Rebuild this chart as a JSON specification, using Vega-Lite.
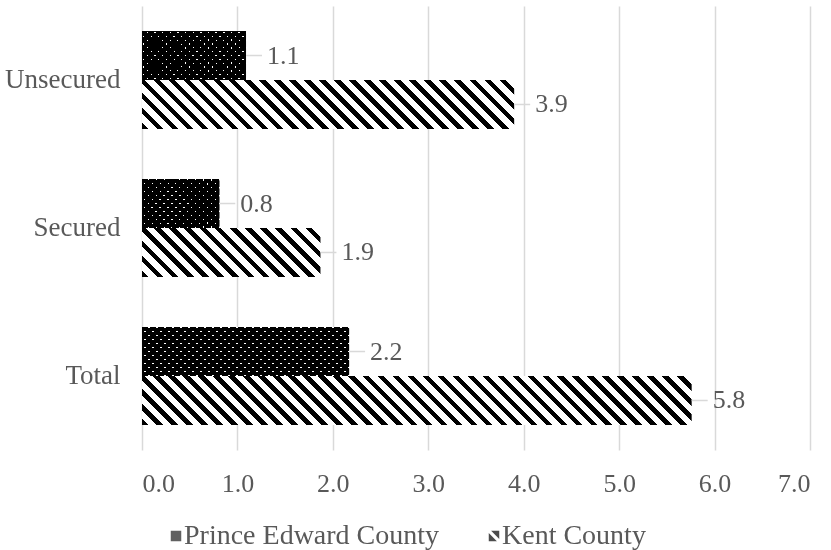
{
  "$schema": "https://vega.github.io/schema/vega-lite/v6.json",
  "width": 668,
  "height": 444,
  "autosize": "none",
  "padding": {"left": 142, "top": 6, "right": 21, "bottom": 100},
  "background": "white",
  "config": {
    "font": "Liberation Serif, DejaVu Serif, serif",
    "view": {"stroke": null},
    "axis": {"labelFont": "Liberation Serif, DejaVu Serif, serif", "labelColor": "#595959", "labelFontSize": 26},
    "legend": {"orient": "none", "legendX": 20, "legendY": 516, "direction": "horizontal", "title": null,
      "labelFontSize": 28, "labelColor": "#595959", "labelFont": "Liberation Serif, DejaVu Serif, serif", "labelLimit": 500,
      "symbolSize": 110, "symbolStrokeWidth": 0, "columnPadding": 40, "labelOffset": -6}
  },
  "data": {
    "values": [
      {"cat": "Unsecured", "county": "Prince Edward County", "value": 1.09},
      {"cat": "Unsecured", "county": "Kent County", "value": 3.9},
      {"cat": "Secured", "county": "Prince Edward County", "value": 0.81},
      {"cat": "Secured", "county": "Kent County", "value": 1.87},
      {"cat": "Total", "county": "Prince Edward County", "value": 2.17},
      {"cat": "Total", "county": "Kent County", "value": 5.76}
    ]
  },
  "encoding": {
    "y": {
      "field": "cat", "type": "nominal", "sort": ["Unsecured", "Secured", "Total"],
      "scale": {"paddingInner": 0.338, "paddingOuter": 0.169},
      "axis": {"title": null, "domain": false, "ticks": false, "labelPadding": 22, "labelFontSize": 27}
    },
    "yOffset": {
      "field": "county", "type": "nominal", "sort": ["Prince Edward County", "Kent County"],
      "scale": {"paddingInner": 0, "paddingOuter": 0}
    },
    "x": {
      "field": "value", "type": "quantitative",
      "scale": {"domain": [0, 7], "nice": false},
      "axis": {"title": null, "values": [0, 1, 2, 3, 4, 5, 6, 7], "format": ".1f", "domain": false, "ticks": false, "grid": true, "gridColor": "#d9d9d9", "gridWidth": 1.5, "labelPadding": 20}
    }
  },
  "layer": [
    {
      "mark": {"type": "bar", "strokeWidth": 0},
      "encoding": {
        "fill": {
          "field": "county", "type": "nominal",
          "scale": {"domain": ["Prince Edward County", "Kent County"], "range": ["#1c1c1c", "#000000"]},
          "condition": [
            {"test": "datum.cat === 'Total' && datum.county === 'Kent County'", "value": {"gradient": "linear", "x1": 0, "y1": 1, "x2": 1.08055, "y2": 0.90368, "stops": [
              {"offset": 0, "color": "#000"}, {"offset": 0.011, "color": "#000"}, {"offset": 0.011, "color": "#fff"}, {"offset": 0.025, "color": "#fff"},
              {"offset": 0.025, "color": "#000"}, {"offset": 0.036, "color": "#000"}, {"offset": 0.036, "color": "#fff"}, {"offset": 0.05, "color": "#fff"},
              {"offset": 0.05, "color": "#000"}, {"offset": 0.061, "color": "#000"}, {"offset": 0.061, "color": "#fff"}, {"offset": 0.075, "color": "#fff"},
              {"offset": 0.075, "color": "#000"}, {"offset": 0.086, "color": "#000"}, {"offset": 0.086, "color": "#fff"}, {"offset": 0.1, "color": "#fff"},
              {"offset": 0.1, "color": "#000"}, {"offset": 0.111, "color": "#000"}, {"offset": 0.111, "color": "#fff"}, {"offset": 0.125, "color": "#fff"},
              {"offset": 0.125, "color": "#000"}, {"offset": 0.136, "color": "#000"}, {"offset": 0.136, "color": "#fff"}, {"offset": 0.15, "color": "#fff"},
              {"offset": 0.15, "color": "#000"}, {"offset": 0.161, "color": "#000"}, {"offset": 0.161, "color": "#fff"}, {"offset": 0.175, "color": "#fff"},
              {"offset": 0.175, "color": "#000"}, {"offset": 0.186, "color": "#000"}, {"offset": 0.186, "color": "#fff"}, {"offset": 0.2, "color": "#fff"},
              {"offset": 0.2, "color": "#000"}, {"offset": 0.211, "color": "#000"}, {"offset": 0.211, "color": "#fff"}, {"offset": 0.225, "color": "#fff"},
              {"offset": 0.225, "color": "#000"}, {"offset": 0.236, "color": "#000"}, {"offset": 0.236, "color": "#fff"}, {"offset": 0.25, "color": "#fff"},
              {"offset": 0.25, "color": "#000"}, {"offset": 0.261, "color": "#000"}, {"offset": 0.261, "color": "#fff"}, {"offset": 0.275, "color": "#fff"},
              {"offset": 0.275, "color": "#000"}, {"offset": 0.286, "color": "#000"}, {"offset": 0.286, "color": "#fff"}, {"offset": 0.3, "color": "#fff"},
              {"offset": 0.3, "color": "#000"}, {"offset": 0.311, "color": "#000"}, {"offset": 0.311, "color": "#fff"}, {"offset": 0.325, "color": "#fff"},
              {"offset": 0.325, "color": "#000"}, {"offset": 0.336, "color": "#000"}, {"offset": 0.336, "color": "#fff"}, {"offset": 0.35, "color": "#fff"},
              {"offset": 0.35, "color": "#000"}, {"offset": 0.361, "color": "#000"}, {"offset": 0.361, "color": "#fff"}, {"offset": 0.375, "color": "#fff"},
              {"offset": 0.375, "color": "#000"}, {"offset": 0.386, "color": "#000"}, {"offset": 0.386, "color": "#fff"}, {"offset": 0.4, "color": "#fff"},
              {"offset": 0.4, "color": "#000"}, {"offset": 0.411, "color": "#000"}, {"offset": 0.411, "color": "#fff"}, {"offset": 0.425, "color": "#fff"},
              {"offset": 0.425, "color": "#000"}, {"offset": 0.436, "color": "#000"}, {"offset": 0.436, "color": "#fff"}, {"offset": 0.45, "color": "#fff"},
              {"offset": 0.45, "color": "#000"}, {"offset": 0.461, "color": "#000"}, {"offset": 0.461, "color": "#fff"}, {"offset": 0.475, "color": "#fff"},
              {"offset": 0.475, "color": "#000"}, {"offset": 0.486, "color": "#000"}, {"offset": 0.486, "color": "#fff"}, {"offset": 0.5, "color": "#fff"},
              {"offset": 0.5, "color": "#000"}, {"offset": 0.511, "color": "#000"}, {"offset": 0.511, "color": "#fff"}, {"offset": 0.525, "color": "#fff"},
              {"offset": 0.525, "color": "#000"}, {"offset": 0.536, "color": "#000"}, {"offset": 0.536, "color": "#fff"}, {"offset": 0.55, "color": "#fff"},
              {"offset": 0.55, "color": "#000"}, {"offset": 0.561, "color": "#000"}, {"offset": 0.561, "color": "#fff"}, {"offset": 0.575, "color": "#fff"},
              {"offset": 0.575, "color": "#000"}, {"offset": 0.586, "color": "#000"}, {"offset": 0.586, "color": "#fff"}, {"offset": 0.6, "color": "#fff"},
              {"offset": 0.6, "color": "#000"}, {"offset": 0.611, "color": "#000"}, {"offset": 0.611, "color": "#fff"}, {"offset": 0.625, "color": "#fff"},
              {"offset": 0.625, "color": "#000"}, {"offset": 0.636, "color": "#000"}, {"offset": 0.636, "color": "#fff"}, {"offset": 0.65, "color": "#fff"},
              {"offset": 0.65, "color": "#000"}, {"offset": 0.661, "color": "#000"}, {"offset": 0.661, "color": "#fff"}, {"offset": 0.675, "color": "#fff"},
              {"offset": 0.675, "color": "#000"}, {"offset": 0.686, "color": "#000"}, {"offset": 0.686, "color": "#fff"}, {"offset": 0.7, "color": "#fff"},
              {"offset": 0.7, "color": "#000"}, {"offset": 0.711, "color": "#000"}, {"offset": 0.711, "color": "#fff"}, {"offset": 0.725, "color": "#fff"},
              {"offset": 0.725, "color": "#000"}, {"offset": 0.736, "color": "#000"}, {"offset": 0.736, "color": "#fff"}, {"offset": 0.75, "color": "#fff"},
              {"offset": 0.75, "color": "#000"}, {"offset": 0.761, "color": "#000"}, {"offset": 0.761, "color": "#fff"}, {"offset": 0.775, "color": "#fff"},
              {"offset": 0.775, "color": "#000"}, {"offset": 0.786, "color": "#000"}, {"offset": 0.786, "color": "#fff"}, {"offset": 0.8, "color": "#fff"},
              {"offset": 0.8, "color": "#000"}, {"offset": 0.811, "color": "#000"}, {"offset": 0.811, "color": "#fff"}, {"offset": 0.825, "color": "#fff"},
              {"offset": 0.825, "color": "#000"}, {"offset": 0.836, "color": "#000"}, {"offset": 0.836, "color": "#fff"}, {"offset": 0.85, "color": "#fff"},
              {"offset": 0.85, "color": "#000"}, {"offset": 0.861, "color": "#000"}, {"offset": 0.861, "color": "#fff"}, {"offset": 0.875, "color": "#fff"},
              {"offset": 0.875, "color": "#000"}, {"offset": 0.886, "color": "#000"}, {"offset": 0.886, "color": "#fff"}, {"offset": 0.9, "color": "#fff"},
              {"offset": 0.9, "color": "#000"}, {"offset": 0.911, "color": "#000"}, {"offset": 0.911, "color": "#fff"}, {"offset": 0.925, "color": "#fff"},
              {"offset": 0.925, "color": "#000"}, {"offset": 0.936, "color": "#000"}, {"offset": 0.936, "color": "#fff"}, {"offset": 0.95, "color": "#fff"},
              {"offset": 0.95, "color": "#000"}, {"offset": 0.961, "color": "#000"}, {"offset": 0.961, "color": "#fff"}, {"offset": 0.975, "color": "#fff"},
              {"offset": 0.975, "color": "#000"}, {"offset": 0.986, "color": "#000"}, {"offset": 0.986, "color": "#fff"}, {"offset": 1, "color": "#fff"}
            ]}},
            {"test": "datum.cat === 'Secured' && datum.county === 'Kent County'", "value": {"gradient": "linear", "x1": 0, "y1": 1, "x2": 1.18525, "y2": 0.67446, "stops": [
              {"offset": 0, "color": "#000"}, {"offset": 0.0293, "color": "#000"}, {"offset": 0.0293, "color": "#fff"}, {"offset": 0.0667, "color": "#fff"},
              {"offset": 0.0667, "color": "#000"}, {"offset": 0.096, "color": "#000"}, {"offset": 0.096, "color": "#fff"}, {"offset": 0.1333, "color": "#fff"},
              {"offset": 0.1333, "color": "#000"}, {"offset": 0.1626, "color": "#000"}, {"offset": 0.1626, "color": "#fff"}, {"offset": 0.2, "color": "#fff"},
              {"offset": 0.2, "color": "#000"}, {"offset": 0.2293, "color": "#000"}, {"offset": 0.2293, "color": "#fff"}, {"offset": 0.2667, "color": "#fff"},
              {"offset": 0.2667, "color": "#000"}, {"offset": 0.296, "color": "#000"}, {"offset": 0.296, "color": "#fff"}, {"offset": 0.3333, "color": "#fff"},
              {"offset": 0.3333, "color": "#000"}, {"offset": 0.3626, "color": "#000"}, {"offset": 0.3626, "color": "#fff"}, {"offset": 0.4, "color": "#fff"},
              {"offset": 0.4, "color": "#000"}, {"offset": 0.4293, "color": "#000"}, {"offset": 0.4293, "color": "#fff"}, {"offset": 0.4667, "color": "#fff"},
              {"offset": 0.4667, "color": "#000"}, {"offset": 0.496, "color": "#000"}, {"offset": 0.496, "color": "#fff"}, {"offset": 0.5333, "color": "#fff"},
              {"offset": 0.5333, "color": "#000"}, {"offset": 0.5626, "color": "#000"}, {"offset": 0.5626, "color": "#fff"}, {"offset": 0.6, "color": "#fff"},
              {"offset": 0.6, "color": "#000"}, {"offset": 0.6293, "color": "#000"}, {"offset": 0.6293, "color": "#fff"}, {"offset": 0.6667, "color": "#fff"},
              {"offset": 0.6667, "color": "#000"}, {"offset": 0.696, "color": "#000"}, {"offset": 0.696, "color": "#fff"}, {"offset": 0.7333, "color": "#fff"},
              {"offset": 0.7333, "color": "#000"}, {"offset": 0.7626, "color": "#000"}, {"offset": 0.7626, "color": "#fff"}, {"offset": 0.8, "color": "#fff"},
              {"offset": 0.8, "color": "#000"}, {"offset": 0.8293, "color": "#000"}, {"offset": 0.8293, "color": "#fff"}, {"offset": 0.8667, "color": "#fff"},
              {"offset": 0.8667, "color": "#000"}, {"offset": 0.896, "color": "#000"}, {"offset": 0.896, "color": "#fff"}, {"offset": 0.9333, "color": "#fff"},
              {"offset": 0.9333, "color": "#000"}, {"offset": 0.9626, "color": "#000"}, {"offset": 0.9626, "color": "#fff"}, {"offset": 1, "color": "#fff"}
            ]}},
            {"test": "datum.cat === 'Unsecured' && datum.county === 'Kent County'", "value": {"gradient": "linear", "x1": 0, "y1": 1, "x2": 1.11237, "y2": 0.85356, "stops": [
              {"offset": 0, "color": "#000"}, {"offset": 0.0157, "color": "#000"}, {"offset": 0.0157, "color": "#fff"}, {"offset": 0.0357, "color": "#fff"},
              {"offset": 0.0357, "color": "#000"}, {"offset": 0.0514, "color": "#000"}, {"offset": 0.0514, "color": "#fff"}, {"offset": 0.0714, "color": "#fff"},
              {"offset": 0.0714, "color": "#000"}, {"offset": 0.0871, "color": "#000"}, {"offset": 0.0871, "color": "#fff"}, {"offset": 0.1071, "color": "#fff"},
              {"offset": 0.1071, "color": "#000"}, {"offset": 0.1228, "color": "#000"}, {"offset": 0.1228, "color": "#fff"}, {"offset": 0.1429, "color": "#fff"},
              {"offset": 0.1429, "color": "#000"}, {"offset": 0.1586, "color": "#000"}, {"offset": 0.1586, "color": "#fff"}, {"offset": 0.1786, "color": "#fff"},
              {"offset": 0.1786, "color": "#000"}, {"offset": 0.1943, "color": "#000"}, {"offset": 0.1943, "color": "#fff"}, {"offset": 0.2143, "color": "#fff"},
              {"offset": 0.2143, "color": "#000"}, {"offset": 0.23, "color": "#000"}, {"offset": 0.23, "color": "#fff"}, {"offset": 0.25, "color": "#fff"},
              {"offset": 0.25, "color": "#000"}, {"offset": 0.2657, "color": "#000"}, {"offset": 0.2657, "color": "#fff"}, {"offset": 0.2857, "color": "#fff"},
              {"offset": 0.2857, "color": "#000"}, {"offset": 0.3014, "color": "#000"}, {"offset": 0.3014, "color": "#fff"}, {"offset": 0.3214, "color": "#fff"},
              {"offset": 0.3214, "color": "#000"}, {"offset": 0.3371, "color": "#000"}, {"offset": 0.3371, "color": "#fff"}, {"offset": 0.3571, "color": "#fff"},
              {"offset": 0.3571, "color": "#000"}, {"offset": 0.3728, "color": "#000"}, {"offset": 0.3728, "color": "#fff"}, {"offset": 0.3929, "color": "#fff"},
              {"offset": 0.3929, "color": "#000"}, {"offset": 0.4086, "color": "#000"}, {"offset": 0.4086, "color": "#fff"}, {"offset": 0.4286, "color": "#fff"},
              {"offset": 0.4286, "color": "#000"}, {"offset": 0.4443, "color": "#000"}, {"offset": 0.4443, "color": "#fff"}, {"offset": 0.4643, "color": "#fff"},
              {"offset": 0.4643, "color": "#000"}, {"offset": 0.48, "color": "#000"}, {"offset": 0.48, "color": "#fff"}, {"offset": 0.5, "color": "#fff"},
              {"offset": 0.5, "color": "#000"}, {"offset": 0.5157, "color": "#000"}, {"offset": 0.5157, "color": "#fff"}, {"offset": 0.5357, "color": "#fff"},
              {"offset": 0.5357, "color": "#000"}, {"offset": 0.5514, "color": "#000"}, {"offset": 0.5514, "color": "#fff"}, {"offset": 0.5714, "color": "#fff"},
              {"offset": 0.5714, "color": "#000"}, {"offset": 0.5871, "color": "#000"}, {"offset": 0.5871, "color": "#fff"}, {"offset": 0.6071, "color": "#fff"},
              {"offset": 0.6071, "color": "#000"}, {"offset": 0.6228, "color": "#000"}, {"offset": 0.6228, "color": "#fff"}, {"offset": 0.6429, "color": "#fff"},
              {"offset": 0.6429, "color": "#000"}, {"offset": 0.6586, "color": "#000"}, {"offset": 0.6586, "color": "#fff"}, {"offset": 0.6786, "color": "#fff"},
              {"offset": 0.6786, "color": "#000"}, {"offset": 0.6943, "color": "#000"}, {"offset": 0.6943, "color": "#fff"}, {"offset": 0.7143, "color": "#fff"},
              {"offset": 0.7143, "color": "#000"}, {"offset": 0.73, "color": "#000"}, {"offset": 0.73, "color": "#fff"}, {"offset": 0.75, "color": "#fff"},
              {"offset": 0.75, "color": "#000"}, {"offset": 0.7657, "color": "#000"}, {"offset": 0.7657, "color": "#fff"}, {"offset": 0.7857, "color": "#fff"},
              {"offset": 0.7857, "color": "#000"}, {"offset": 0.8014, "color": "#000"}, {"offset": 0.8014, "color": "#fff"}, {"offset": 0.8214, "color": "#fff"},
              {"offset": 0.8214, "color": "#000"}, {"offset": 0.8371, "color": "#000"}, {"offset": 0.8371, "color": "#fff"}, {"offset": 0.8571, "color": "#fff"},
              {"offset": 0.8571, "color": "#000"}, {"offset": 0.8728, "color": "#000"}, {"offset": 0.8728, "color": "#fff"}, {"offset": 0.8929, "color": "#fff"},
              {"offset": 0.8929, "color": "#000"}, {"offset": 0.9086, "color": "#000"}, {"offset": 0.9086, "color": "#fff"}, {"offset": 0.9286, "color": "#fff"},
              {"offset": 0.9286, "color": "#000"}, {"offset": 0.9443, "color": "#000"}, {"offset": 0.9443, "color": "#fff"}, {"offset": 0.9643, "color": "#fff"},
              {"offset": 0.9643, "color": "#000"}, {"offset": 0.98, "color": "#000"}, {"offset": 0.98, "color": "#fff"}, {"offset": 1, "color": "#fff"}
            ]}},
            {"test": "datum.cat === 'Unsecured' && datum.county === 'Prince Edward County'", "value": {"gradient": "linear", "x1": 0, "y1": 1, "x2": 1.20391, "y2": 0.43278, "stops": [
              {"offset": 0, "color": "#000"}, {"offset": 0.04, "color": "#000"}, {"offset": 0.04, "color": "#fff"}, {"offset": 0.05, "color": "#fff"},
              {"offset": 0.05, "color": "#000"}, {"offset": 0.09, "color": "#000"}, {"offset": 0.09, "color": "#fff"}, {"offset": 0.1, "color": "#fff"},
              {"offset": 0.1, "color": "#000"}, {"offset": 0.14, "color": "#000"}, {"offset": 0.14, "color": "#fff"}, {"offset": 0.15, "color": "#fff"},
              {"offset": 0.15, "color": "#000"}, {"offset": 0.19, "color": "#000"}, {"offset": 0.19, "color": "#fff"}, {"offset": 0.2, "color": "#fff"},
              {"offset": 0.2, "color": "#000"}, {"offset": 0.24, "color": "#000"}, {"offset": 0.24, "color": "#fff"}, {"offset": 0.25, "color": "#fff"},
              {"offset": 0.25, "color": "#000"}, {"offset": 0.29, "color": "#000"}, {"offset": 0.29, "color": "#fff"}, {"offset": 0.3, "color": "#fff"},
              {"offset": 0.3, "color": "#000"}, {"offset": 0.34, "color": "#000"}, {"offset": 0.34, "color": "#fff"}, {"offset": 0.35, "color": "#fff"},
              {"offset": 0.35, "color": "#000"}, {"offset": 0.39, "color": "#000"}, {"offset": 0.39, "color": "#fff"}, {"offset": 0.4, "color": "#fff"},
              {"offset": 0.4, "color": "#000"}, {"offset": 0.44, "color": "#000"}, {"offset": 0.44, "color": "#fff"}, {"offset": 0.45, "color": "#fff"},
              {"offset": 0.45, "color": "#000"}, {"offset": 0.49, "color": "#000"}, {"offset": 0.49, "color": "#fff"}, {"offset": 0.5, "color": "#fff"},
              {"offset": 0.5, "color": "#000"}, {"offset": 0.54, "color": "#000"}, {"offset": 0.54, "color": "#fff"}, {"offset": 0.55, "color": "#fff"},
              {"offset": 0.55, "color": "#000"}, {"offset": 0.59, "color": "#000"}, {"offset": 0.59, "color": "#fff"}, {"offset": 0.6, "color": "#fff"},
              {"offset": 0.6, "color": "#000"}, {"offset": 0.64, "color": "#000"}, {"offset": 0.64, "color": "#fff"}, {"offset": 0.65, "color": "#fff"},
              {"offset": 0.65, "color": "#000"}, {"offset": 0.69, "color": "#000"}, {"offset": 0.69, "color": "#fff"}, {"offset": 0.7, "color": "#fff"},
              {"offset": 0.7, "color": "#000"}, {"offset": 0.74, "color": "#000"}, {"offset": 0.74, "color": "#fff"}, {"offset": 0.75, "color": "#fff"},
              {"offset": 0.75, "color": "#000"}, {"offset": 0.79, "color": "#000"}, {"offset": 0.79, "color": "#fff"}, {"offset": 0.8, "color": "#fff"},
              {"offset": 0.8, "color": "#000"}, {"offset": 0.84, "color": "#000"}, {"offset": 0.84, "color": "#fff"}, {"offset": 0.85, "color": "#fff"},
              {"offset": 0.85, "color": "#000"}, {"offset": 0.89, "color": "#000"}, {"offset": 0.89, "color": "#fff"}, {"offset": 0.9, "color": "#fff"},
              {"offset": 0.9, "color": "#000"}, {"offset": 0.94, "color": "#000"}, {"offset": 0.94, "color": "#fff"}, {"offset": 0.95, "color": "#fff"},
              {"offset": 0.95, "color": "#000"}, {"offset": 0.99, "color": "#000"}, {"offset": 0.99, "color": "#fff"}, {"offset": 1, "color": "#fff"}
            ]}},
            {"test": "datum.cat === 'Secured' && datum.county === 'Prince Edward County'", "value": {"gradient": "linear", "x1": 0, "y1": 1, "x2": 1.16555, "y2": 0.26117, "stops": [
              {"offset": 0, "color": "#000"}, {"offset": 0.05, "color": "#000"}, {"offset": 0.05, "color": "#fff"}, {"offset": 0.0625, "color": "#fff"},
              {"offset": 0.0625, "color": "#000"}, {"offset": 0.1125, "color": "#000"}, {"offset": 0.1125, "color": "#fff"}, {"offset": 0.125, "color": "#fff"},
              {"offset": 0.125, "color": "#000"}, {"offset": 0.175, "color": "#000"}, {"offset": 0.175, "color": "#fff"}, {"offset": 0.1875, "color": "#fff"},
              {"offset": 0.1875, "color": "#000"}, {"offset": 0.2375, "color": "#000"}, {"offset": 0.2375, "color": "#fff"}, {"offset": 0.25, "color": "#fff"},
              {"offset": 0.25, "color": "#000"}, {"offset": 0.3, "color": "#000"}, {"offset": 0.3, "color": "#fff"}, {"offset": 0.3125, "color": "#fff"},
              {"offset": 0.3125, "color": "#000"}, {"offset": 0.3625, "color": "#000"}, {"offset": 0.3625, "color": "#fff"}, {"offset": 0.375, "color": "#fff"},
              {"offset": 0.375, "color": "#000"}, {"offset": 0.425, "color": "#000"}, {"offset": 0.425, "color": "#fff"}, {"offset": 0.4375, "color": "#fff"},
              {"offset": 0.4375, "color": "#000"}, {"offset": 0.4875, "color": "#000"}, {"offset": 0.4875, "color": "#fff"}, {"offset": 0.5, "color": "#fff"},
              {"offset": 0.5, "color": "#000"}, {"offset": 0.55, "color": "#000"}, {"offset": 0.55, "color": "#fff"}, {"offset": 0.5625, "color": "#fff"},
              {"offset": 0.5625, "color": "#000"}, {"offset": 0.6125, "color": "#000"}, {"offset": 0.6125, "color": "#fff"}, {"offset": 0.625, "color": "#fff"},
              {"offset": 0.625, "color": "#000"}, {"offset": 0.675, "color": "#000"}, {"offset": 0.675, "color": "#fff"}, {"offset": 0.6875, "color": "#fff"},
              {"offset": 0.6875, "color": "#000"}, {"offset": 0.7375, "color": "#000"}, {"offset": 0.7375, "color": "#fff"}, {"offset": 0.75, "color": "#fff"},
              {"offset": 0.75, "color": "#000"}, {"offset": 0.8, "color": "#000"}, {"offset": 0.8, "color": "#fff"}, {"offset": 0.8125, "color": "#fff"},
              {"offset": 0.8125, "color": "#000"}, {"offset": 0.8625, "color": "#000"}, {"offset": 0.8625, "color": "#fff"}, {"offset": 0.875, "color": "#fff"},
              {"offset": 0.875, "color": "#000"}, {"offset": 0.925, "color": "#000"}, {"offset": 0.925, "color": "#fff"}, {"offset": 0.9375, "color": "#fff"},
              {"offset": 0.9375, "color": "#000"}, {"offset": 0.9875, "color": "#000"}, {"offset": 0.9875, "color": "#fff"}, {"offset": 1, "color": "#fff"}
            ]}},
            {"test": "datum.cat === 'Total' && datum.county === 'Prince Edward County'", "value": {"gradient": "linear", "x1": 0, "y1": 1, "x2": 1.17105, "y2": 0.72293, "stops": [
              {"offset": 0, "color": "#000"}, {"offset": 0.025, "color": "#000"}, {"offset": 0.025, "color": "#fff"}, {"offset": 0.03125, "color": "#fff"},
              {"offset": 0.03125, "color": "#000"}, {"offset": 0.05625, "color": "#000"}, {"offset": 0.05625, "color": "#fff"}, {"offset": 0.0625, "color": "#fff"},
              {"offset": 0.0625, "color": "#000"}, {"offset": 0.0875, "color": "#000"}, {"offset": 0.0875, "color": "#fff"}, {"offset": 0.09375, "color": "#fff"},
              {"offset": 0.09375, "color": "#000"}, {"offset": 0.11875, "color": "#000"}, {"offset": 0.11875, "color": "#fff"}, {"offset": 0.125, "color": "#fff"},
              {"offset": 0.125, "color": "#000"}, {"offset": 0.15, "color": "#000"}, {"offset": 0.15, "color": "#fff"}, {"offset": 0.15625, "color": "#fff"},
              {"offset": 0.15625, "color": "#000"}, {"offset": 0.18125, "color": "#000"}, {"offset": 0.18125, "color": "#fff"}, {"offset": 0.1875, "color": "#fff"},
              {"offset": 0.1875, "color": "#000"}, {"offset": 0.2125, "color": "#000"}, {"offset": 0.2125, "color": "#fff"}, {"offset": 0.21875, "color": "#fff"},
              {"offset": 0.21875, "color": "#000"}, {"offset": 0.24375, "color": "#000"}, {"offset": 0.24375, "color": "#fff"}, {"offset": 0.25, "color": "#fff"},
              {"offset": 0.25, "color": "#000"}, {"offset": 0.275, "color": "#000"}, {"offset": 0.275, "color": "#fff"}, {"offset": 0.28125, "color": "#fff"},
              {"offset": 0.28125, "color": "#000"}, {"offset": 0.30625, "color": "#000"}, {"offset": 0.30625, "color": "#fff"}, {"offset": 0.3125, "color": "#fff"},
              {"offset": 0.3125, "color": "#000"}, {"offset": 0.3375, "color": "#000"}, {"offset": 0.3375, "color": "#fff"}, {"offset": 0.34375, "color": "#fff"},
              {"offset": 0.34375, "color": "#000"}, {"offset": 0.36875, "color": "#000"}, {"offset": 0.36875, "color": "#fff"}, {"offset": 0.375, "color": "#fff"},
              {"offset": 0.375, "color": "#000"}, {"offset": 0.4, "color": "#000"}, {"offset": 0.4, "color": "#fff"}, {"offset": 0.40625, "color": "#fff"},
              {"offset": 0.40625, "color": "#000"}, {"offset": 0.43125, "color": "#000"}, {"offset": 0.43125, "color": "#fff"}, {"offset": 0.4375, "color": "#fff"},
              {"offset": 0.4375, "color": "#000"}, {"offset": 0.4625, "color": "#000"}, {"offset": 0.4625, "color": "#fff"}, {"offset": 0.46875, "color": "#fff"},
              {"offset": 0.46875, "color": "#000"}, {"offset": 0.49375, "color": "#000"}, {"offset": 0.49375, "color": "#fff"}, {"offset": 0.5, "color": "#fff"},
              {"offset": 0.5, "color": "#000"}, {"offset": 0.525, "color": "#000"}, {"offset": 0.525, "color": "#fff"}, {"offset": 0.53125, "color": "#fff"},
              {"offset": 0.53125, "color": "#000"}, {"offset": 0.55625, "color": "#000"}, {"offset": 0.55625, "color": "#fff"}, {"offset": 0.5625, "color": "#fff"},
              {"offset": 0.5625, "color": "#000"}, {"offset": 0.5875, "color": "#000"}, {"offset": 0.5875, "color": "#fff"}, {"offset": 0.59375, "color": "#fff"},
              {"offset": 0.59375, "color": "#000"}, {"offset": 0.61875, "color": "#000"}, {"offset": 0.61875, "color": "#fff"}, {"offset": 0.625, "color": "#fff"},
              {"offset": 0.625, "color": "#000"}, {"offset": 0.65, "color": "#000"}, {"offset": 0.65, "color": "#fff"}, {"offset": 0.65625, "color": "#fff"},
              {"offset": 0.65625, "color": "#000"}, {"offset": 0.68125, "color": "#000"}, {"offset": 0.68125, "color": "#fff"}, {"offset": 0.6875, "color": "#fff"},
              {"offset": 0.6875, "color": "#000"}, {"offset": 0.7125, "color": "#000"}, {"offset": 0.7125, "color": "#fff"}, {"offset": 0.71875, "color": "#fff"},
              {"offset": 0.71875, "color": "#000"}, {"offset": 0.74375, "color": "#000"}, {"offset": 0.74375, "color": "#fff"}, {"offset": 0.75, "color": "#fff"},
              {"offset": 0.75, "color": "#000"}, {"offset": 0.775, "color": "#000"}, {"offset": 0.775, "color": "#fff"}, {"offset": 0.78125, "color": "#fff"},
              {"offset": 0.78125, "color": "#000"}, {"offset": 0.80625, "color": "#000"}, {"offset": 0.80625, "color": "#fff"}, {"offset": 0.8125, "color": "#fff"},
              {"offset": 0.8125, "color": "#000"}, {"offset": 0.8375, "color": "#000"}, {"offset": 0.8375, "color": "#fff"}, {"offset": 0.84375, "color": "#fff"},
              {"offset": 0.84375, "color": "#000"}, {"offset": 0.86875, "color": "#000"}, {"offset": 0.86875, "color": "#fff"}, {"offset": 0.875, "color": "#fff"},
              {"offset": 0.875, "color": "#000"}, {"offset": 0.9, "color": "#000"}, {"offset": 0.9, "color": "#fff"}, {"offset": 0.90625, "color": "#fff"},
              {"offset": 0.90625, "color": "#000"}, {"offset": 0.93125, "color": "#000"}, {"offset": 0.93125, "color": "#fff"}, {"offset": 0.9375, "color": "#fff"},
              {"offset": 0.9375, "color": "#000"}, {"offset": 0.9625, "color": "#000"}, {"offset": 0.9625, "color": "#fff"}, {"offset": 0.96875, "color": "#fff"},
              {"offset": 0.96875, "color": "#000"}, {"offset": 0.99375, "color": "#000"}, {"offset": 0.99375, "color": "#fff"}, {"offset": 1, "color": "#fff"}
            ]}}
          ]
        }
      }
    },
    {
      "transform": [{"filter": "datum.county === 'Prince Edward County'"}],
      "mark": {"type": "bar", "strokeWidth": 0, "blend": "multiply"},
      "encoding": {
        "fill": {
          "condition": [
            {"test": "datum.cat === 'Unsecured'", "value": {"gradient": "linear", "x1": 0, "y1": 0, "x2": 1.20391, "y2": 0.56722, "stops": [
              {"offset": 0, "color": "#000"}, {"offset": 0.04, "color": "#000"}, {"offset": 0.04, "color": "#fff"}, {"offset": 0.05, "color": "#fff"},
              {"offset": 0.05, "color": "#000"}, {"offset": 0.09, "color": "#000"}, {"offset": 0.09, "color": "#fff"}, {"offset": 0.1, "color": "#fff"},
              {"offset": 0.1, "color": "#000"}, {"offset": 0.14, "color": "#000"}, {"offset": 0.14, "color": "#fff"}, {"offset": 0.15, "color": "#fff"},
              {"offset": 0.15, "color": "#000"}, {"offset": 0.19, "color": "#000"}, {"offset": 0.19, "color": "#fff"}, {"offset": 0.2, "color": "#fff"},
              {"offset": 0.2, "color": "#000"}, {"offset": 0.24, "color": "#000"}, {"offset": 0.24, "color": "#fff"}, {"offset": 0.25, "color": "#fff"},
              {"offset": 0.25, "color": "#000"}, {"offset": 0.29, "color": "#000"}, {"offset": 0.29, "color": "#fff"}, {"offset": 0.3, "color": "#fff"},
              {"offset": 0.3, "color": "#000"}, {"offset": 0.34, "color": "#000"}, {"offset": 0.34, "color": "#fff"}, {"offset": 0.35, "color": "#fff"},
              {"offset": 0.35, "color": "#000"}, {"offset": 0.39, "color": "#000"}, {"offset": 0.39, "color": "#fff"}, {"offset": 0.4, "color": "#fff"},
              {"offset": 0.4, "color": "#000"}, {"offset": 0.44, "color": "#000"}, {"offset": 0.44, "color": "#fff"}, {"offset": 0.45, "color": "#fff"},
              {"offset": 0.45, "color": "#000"}, {"offset": 0.49, "color": "#000"}, {"offset": 0.49, "color": "#fff"}, {"offset": 0.5, "color": "#fff"},
              {"offset": 0.5, "color": "#000"}, {"offset": 0.54, "color": "#000"}, {"offset": 0.54, "color": "#fff"}, {"offset": 0.55, "color": "#fff"},
              {"offset": 0.55, "color": "#000"}, {"offset": 0.59, "color": "#000"}, {"offset": 0.59, "color": "#fff"}, {"offset": 0.6, "color": "#fff"},
              {"offset": 0.6, "color": "#000"}, {"offset": 0.64, "color": "#000"}, {"offset": 0.64, "color": "#fff"}, {"offset": 0.65, "color": "#fff"},
              {"offset": 0.65, "color": "#000"}, {"offset": 0.69, "color": "#000"}, {"offset": 0.69, "color": "#fff"}, {"offset": 0.7, "color": "#fff"},
              {"offset": 0.7, "color": "#000"}, {"offset": 0.74, "color": "#000"}, {"offset": 0.74, "color": "#fff"}, {"offset": 0.75, "color": "#fff"},
              {"offset": 0.75, "color": "#000"}, {"offset": 0.79, "color": "#000"}, {"offset": 0.79, "color": "#fff"}, {"offset": 0.8, "color": "#fff"},
              {"offset": 0.8, "color": "#000"}, {"offset": 0.84, "color": "#000"}, {"offset": 0.84, "color": "#fff"}, {"offset": 0.85, "color": "#fff"},
              {"offset": 0.85, "color": "#000"}, {"offset": 0.89, "color": "#000"}, {"offset": 0.89, "color": "#fff"}, {"offset": 0.9, "color": "#fff"},
              {"offset": 0.9, "color": "#000"}, {"offset": 0.94, "color": "#000"}, {"offset": 0.94, "color": "#fff"}, {"offset": 0.95, "color": "#fff"},
              {"offset": 0.95, "color": "#000"}, {"offset": 0.99, "color": "#000"}, {"offset": 0.99, "color": "#fff"}, {"offset": 1, "color": "#fff"}
            ]}},
            {"test": "datum.cat === 'Secured'", "value": {"gradient": "linear", "x1": 0, "y1": 0, "x2": 1.16555, "y2": 0.73883, "stops": [
              {"offset": 0, "color": "#000"}, {"offset": 0.05, "color": "#000"}, {"offset": 0.05, "color": "#fff"}, {"offset": 0.0625, "color": "#fff"},
              {"offset": 0.0625, "color": "#000"}, {"offset": 0.1125, "color": "#000"}, {"offset": 0.1125, "color": "#fff"}, {"offset": 0.125, "color": "#fff"},
              {"offset": 0.125, "color": "#000"}, {"offset": 0.175, "color": "#000"}, {"offset": 0.175, "color": "#fff"}, {"offset": 0.1875, "color": "#fff"},
              {"offset": 0.1875, "color": "#000"}, {"offset": 0.2375, "color": "#000"}, {"offset": 0.2375, "color": "#fff"}, {"offset": 0.25, "color": "#fff"},
              {"offset": 0.25, "color": "#000"}, {"offset": 0.3, "color": "#000"}, {"offset": 0.3, "color": "#fff"}, {"offset": 0.3125, "color": "#fff"},
              {"offset": 0.3125, "color": "#000"}, {"offset": 0.3625, "color": "#000"}, {"offset": 0.3625, "color": "#fff"}, {"offset": 0.375, "color": "#fff"},
              {"offset": 0.375, "color": "#000"}, {"offset": 0.425, "color": "#000"}, {"offset": 0.425, "color": "#fff"}, {"offset": 0.4375, "color": "#fff"},
              {"offset": 0.4375, "color": "#000"}, {"offset": 0.4875, "color": "#000"}, {"offset": 0.4875, "color": "#fff"}, {"offset": 0.5, "color": "#fff"},
              {"offset": 0.5, "color": "#000"}, {"offset": 0.55, "color": "#000"}, {"offset": 0.55, "color": "#fff"}, {"offset": 0.5625, "color": "#fff"},
              {"offset": 0.5625, "color": "#000"}, {"offset": 0.6125, "color": "#000"}, {"offset": 0.6125, "color": "#fff"}, {"offset": 0.625, "color": "#fff"},
              {"offset": 0.625, "color": "#000"}, {"offset": 0.675, "color": "#000"}, {"offset": 0.675, "color": "#fff"}, {"offset": 0.6875, "color": "#fff"},
              {"offset": 0.6875, "color": "#000"}, {"offset": 0.7375, "color": "#000"}, {"offset": 0.7375, "color": "#fff"}, {"offset": 0.75, "color": "#fff"},
              {"offset": 0.75, "color": "#000"}, {"offset": 0.8, "color": "#000"}, {"offset": 0.8, "color": "#fff"}, {"offset": 0.8125, "color": "#fff"},
              {"offset": 0.8125, "color": "#000"}, {"offset": 0.8625, "color": "#000"}, {"offset": 0.8625, "color": "#fff"}, {"offset": 0.875, "color": "#fff"},
              {"offset": 0.875, "color": "#000"}, {"offset": 0.925, "color": "#000"}, {"offset": 0.925, "color": "#fff"}, {"offset": 0.9375, "color": "#fff"},
              {"offset": 0.9375, "color": "#000"}, {"offset": 0.9875, "color": "#000"}, {"offset": 0.9875, "color": "#fff"}, {"offset": 1, "color": "#fff"}
            ]}},
            {"test": "datum.cat === 'Total'", "value": {"gradient": "linear", "x1": 0, "y1": 0, "x2": 1.17105, "y2": 0.27707, "stops": [
              {"offset": 0, "color": "#000"}, {"offset": 0.025, "color": "#000"}, {"offset": 0.025, "color": "#fff"}, {"offset": 0.03125, "color": "#fff"},
              {"offset": 0.03125, "color": "#000"}, {"offset": 0.05625, "color": "#000"}, {"offset": 0.05625, "color": "#fff"}, {"offset": 0.0625, "color": "#fff"},
              {"offset": 0.0625, "color": "#000"}, {"offset": 0.0875, "color": "#000"}, {"offset": 0.0875, "color": "#fff"}, {"offset": 0.09375, "color": "#fff"},
              {"offset": 0.09375, "color": "#000"}, {"offset": 0.11875, "color": "#000"}, {"offset": 0.11875, "color": "#fff"}, {"offset": 0.125, "color": "#fff"},
              {"offset": 0.125, "color": "#000"}, {"offset": 0.15, "color": "#000"}, {"offset": 0.15, "color": "#fff"}, {"offset": 0.15625, "color": "#fff"},
              {"offset": 0.15625, "color": "#000"}, {"offset": 0.18125, "color": "#000"}, {"offset": 0.18125, "color": "#fff"}, {"offset": 0.1875, "color": "#fff"},
              {"offset": 0.1875, "color": "#000"}, {"offset": 0.2125, "color": "#000"}, {"offset": 0.2125, "color": "#fff"}, {"offset": 0.21875, "color": "#fff"},
              {"offset": 0.21875, "color": "#000"}, {"offset": 0.24375, "color": "#000"}, {"offset": 0.24375, "color": "#fff"}, {"offset": 0.25, "color": "#fff"},
              {"offset": 0.25, "color": "#000"}, {"offset": 0.275, "color": "#000"}, {"offset": 0.275, "color": "#fff"}, {"offset": 0.28125, "color": "#fff"},
              {"offset": 0.28125, "color": "#000"}, {"offset": 0.30625, "color": "#000"}, {"offset": 0.30625, "color": "#fff"}, {"offset": 0.3125, "color": "#fff"},
              {"offset": 0.3125, "color": "#000"}, {"offset": 0.3375, "color": "#000"}, {"offset": 0.3375, "color": "#fff"}, {"offset": 0.34375, "color": "#fff"},
              {"offset": 0.34375, "color": "#000"}, {"offset": 0.36875, "color": "#000"}, {"offset": 0.36875, "color": "#fff"}, {"offset": 0.375, "color": "#fff"},
              {"offset": 0.375, "color": "#000"}, {"offset": 0.4, "color": "#000"}, {"offset": 0.4, "color": "#fff"}, {"offset": 0.40625, "color": "#fff"},
              {"offset": 0.40625, "color": "#000"}, {"offset": 0.43125, "color": "#000"}, {"offset": 0.43125, "color": "#fff"}, {"offset": 0.4375, "color": "#fff"},
              {"offset": 0.4375, "color": "#000"}, {"offset": 0.4625, "color": "#000"}, {"offset": 0.4625, "color": "#fff"}, {"offset": 0.46875, "color": "#fff"},
              {"offset": 0.46875, "color": "#000"}, {"offset": 0.49375, "color": "#000"}, {"offset": 0.49375, "color": "#fff"}, {"offset": 0.5, "color": "#fff"},
              {"offset": 0.5, "color": "#000"}, {"offset": 0.525, "color": "#000"}, {"offset": 0.525, "color": "#fff"}, {"offset": 0.53125, "color": "#fff"},
              {"offset": 0.53125, "color": "#000"}, {"offset": 0.55625, "color": "#000"}, {"offset": 0.55625, "color": "#fff"}, {"offset": 0.5625, "color": "#fff"},
              {"offset": 0.5625, "color": "#000"}, {"offset": 0.5875, "color": "#000"}, {"offset": 0.5875, "color": "#fff"}, {"offset": 0.59375, "color": "#fff"},
              {"offset": 0.59375, "color": "#000"}, {"offset": 0.61875, "color": "#000"}, {"offset": 0.61875, "color": "#fff"}, {"offset": 0.625, "color": "#fff"},
              {"offset": 0.625, "color": "#000"}, {"offset": 0.65, "color": "#000"}, {"offset": 0.65, "color": "#fff"}, {"offset": 0.65625, "color": "#fff"},
              {"offset": 0.65625, "color": "#000"}, {"offset": 0.68125, "color": "#000"}, {"offset": 0.68125, "color": "#fff"}, {"offset": 0.6875, "color": "#fff"},
              {"offset": 0.6875, "color": "#000"}, {"offset": 0.7125, "color": "#000"}, {"offset": 0.7125, "color": "#fff"}, {"offset": 0.71875, "color": "#fff"},
              {"offset": 0.71875, "color": "#000"}, {"offset": 0.74375, "color": "#000"}, {"offset": 0.74375, "color": "#fff"}, {"offset": 0.75, "color": "#fff"},
              {"offset": 0.75, "color": "#000"}, {"offset": 0.775, "color": "#000"}, {"offset": 0.775, "color": "#fff"}, {"offset": 0.78125, "color": "#fff"},
              {"offset": 0.78125, "color": "#000"}, {"offset": 0.80625, "color": "#000"}, {"offset": 0.80625, "color": "#fff"}, {"offset": 0.8125, "color": "#fff"},
              {"offset": 0.8125, "color": "#000"}, {"offset": 0.8375, "color": "#000"}, {"offset": 0.8375, "color": "#fff"}, {"offset": 0.84375, "color": "#fff"},
              {"offset": 0.84375, "color": "#000"}, {"offset": 0.86875, "color": "#000"}, {"offset": 0.86875, "color": "#fff"}, {"offset": 0.875, "color": "#fff"},
              {"offset": 0.875, "color": "#000"}, {"offset": 0.9, "color": "#000"}, {"offset": 0.9, "color": "#fff"}, {"offset": 0.90625, "color": "#fff"},
              {"offset": 0.90625, "color": "#000"}, {"offset": 0.93125, "color": "#000"}, {"offset": 0.93125, "color": "#fff"}, {"offset": 0.9375, "color": "#fff"},
              {"offset": 0.9375, "color": "#000"}, {"offset": 0.9625, "color": "#000"}, {"offset": 0.9625, "color": "#fff"}, {"offset": 0.96875, "color": "#fff"},
              {"offset": 0.96875, "color": "#000"}, {"offset": 0.99375, "color": "#000"}, {"offset": 0.99375, "color": "#fff"}, {"offset": 1, "color": "#fff"}
            ]}}
          ],
          "value": "#1c1c1c"
        }
      }
    },
    {
      "mark": {"type": "point", "filled": true, "size": 0, "strokeWidth": 0},
      "encoding": {
        "fill": {"field": "county", "type": "nominal"},
        "shape": {
          "field": "county", "type": "nominal",
          "scale": {"domain": ["Prince Edward County", "Kent County"], "range": ["square", "M-0.55,-1L1,-1L1,0.55Z M-1,-0.55L0.55,1L-1,1Z"]}
        }
      }
    },
    {
      "mark": {"type": "rule", "x2Offset": 16, "color": "#d9d9d9", "strokeWidth": 1.5},
      "encoding": {"x2": {"field": "value"}}
    },
    {
      "mark": {"type": "text", "align": "left", "baseline": "middle", "dx": 21, "fontSize": 26, "color": "#595959", "font": "Liberation Serif, DejaVu Serif, serif"},
      "encoding": {"text": {"field": "value", "type": "quantitative", "format": ".1f"}}
    }
  ]
}
